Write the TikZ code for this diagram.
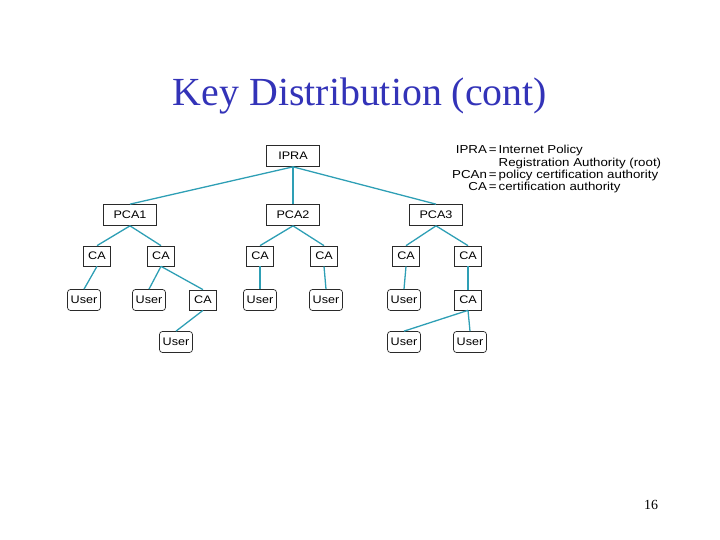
\documentclass[tikz,border=0pt]{standalone}
\usepackage{fontspec}
\setmainfont{Liberation Serif}
\setsansfont{Liberation Sans}[FakeStretch=1.15]
\usepackage{tikz}
\usetikzlibrary{positioning}
\definecolor{titleblue}{HTML}{3333B8}
\definecolor{linkteal}{HTML}{2E9FB5}
\definecolor{boxline}{HTML}{2A2A2A}

\begin{document}
\begin{tikzpicture}[x=1bp, y=-1bp,
        auth/.style={draw=boxline, line width=0.7pt, fill=white, inner sep=0pt, font=\sffamily\fontsize{11}{12}\selectfont},
        pca/.style={auth, minimum width=53bp, minimum height=21bp},
        ca/.style={auth, minimum width=27bp, minimum height=20bp},
        user/.style={auth, rounded corners=3pt, minimum width=33bp, minimum height=21bp},
        link/.style={draw=linkteal, line width=1.3pt}]
      \useasboundingbox (0,0) rectangle (720,540);
      \node[font=\fontsize{40}{44}\selectfont, text=titleblue] (title) at (360,96) {Key Distribution (cont)};
      \node[font=\fontsize{14}{16}\selectfont] (page) at (651,505) {16};
      % hierarchy
      \node[pca] (IPRA) at (293,156) {IPRA};
      \foreach \name/\x in {PCA1/130, PCA2/293, PCA3/436}
        \node[pca] (\name) at (\x,215) {\name};
      \foreach \name/\x/\y in {ca1/97/256, ca2/161/256, ca3/260/256, ca4/324/256, ca5/406/256, ca6/468/256, ca7/203/300, ca8/468/300}
        \node[ca] (\name) at (\x,\y) {CA};
      \foreach \name/\x/\y in {u1/84/300, u2/149/300, u3/260/300, u4/326/300, u5/404/300, u6/176/342, u7/404/342, u8/470/342}
        \node[user] (\name) at (\x,\y) {User};
      \foreach \a/\b in {IPRA/PCA1, IPRA/PCA2, IPRA/PCA3, PCA1/ca1, PCA1/ca2, PCA2/ca3, PCA2/ca4, PCA3/ca5, PCA3/ca6,
          ca1/u1, ca2/u2, ca2/ca7, ca3/u3, ca4/u4, ca5/u5, ca6/ca8, ca7/u6, ca8/u7, ca8/u8}
        \draw[link] (\a.south) -- (\b.north);
      % legend
      \node[anchor=north west, inner sep=0pt, font=\sffamily\fontsize{11.6}{12.4}\selectfont] (legend) at (452,145) {%
        \begin{tabular}{@{}r@{\hspace{2pt}}c@{\hspace{2pt}}l@{}}
          IPRA & = & Internet Policy\\
               &   & Registration Authority (root)\\
          PCAn & = & policy certification authority\\
          CA   & = & certification authority
        \end{tabular}};
    \end{tikzpicture}
\end{document}
